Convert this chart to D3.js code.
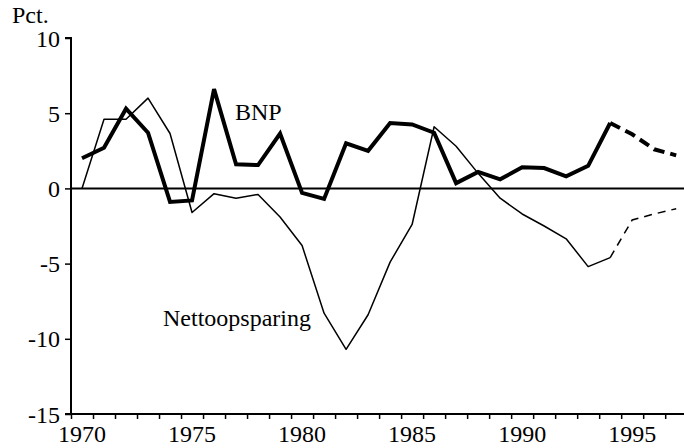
<!DOCTYPE html>
<html>
<head>
<meta charset="utf-8">
<script src="https://cdn.jsdelivr.net/npm/d3@7"></script>
<style>
html,body{margin:0;padding:0;background:#fff;}
svg text{font-family:"Liberation Serif","Times New Roman",serif;fill:#000;}
</style>
</head>
<body>
<svg id="chart" width="684" height="448"></svg>
<script>
// Data (values in pct.)
const years = d3.range(1970, 1995);            // 1970..1994 actual
const bnp = [2.0, 2.7, 5.3, 3.7, -0.9, -0.8, 6.6, 1.6, 1.55, 3.65, -0.3, -0.7, 3.0, 2.5, 4.35, 4.25, 3.7, 0.35, 1.1, 0.6, 1.4, 1.35, 0.8, 1.5, 4.35];
const netto = [0.0, 4.6, 4.6, 6.0, 3.65, -1.6, -0.35, -0.65, -0.4, -1.9, -3.8, -8.3, -10.7, -8.4, -4.9, -2.4, 4.1, 2.8, 1.0, -0.65, -1.7, -2.5, -3.35, -5.2, -4.6];
const forecastYears = [1994, 1995, 1996, 1997];
const bnpForecast = [4.35, 3.6, 2.6, 2.2];
const nettoForecast = [-4.6, -2.1, -1.7, -1.35];
const yTicks = [10, 5, 0, -5, -10, -15];
const xLabelYears = [1970, 1975, 1980, 1985, 1990, 1995];
const xTickYears = d3.range(1970, 1998);

const svg = d3.select("#chart");
const x = d3.scaleLinear().domain([1970, 1997.9]).range([71, 685]);
const y = d3.scaleLinear().domain([-15, 10]).range([414, 38]);
const mid = yr => x(yr + 0.5);

// Y axis
const yAxis = d3.axisLeft(y).tickValues(yTicks).tickSize(6).tickPadding(5).tickFormat(d => String(d));
const gy = svg.append("g").attr("transform", "translate(71,0)").call(yAxis);
gy.select(".domain").attr("stroke", "#000").attr("stroke-width", 2).attr("d", `M-6,${y(10)}H0V${y(-15)}H-6`);
gy.selectAll(".tick line").attr("stroke", "#000").attr("stroke-width", 1.5);
gy.selectAll(".tick text").style("font-size", "24px").attr("dy", "0.34em");

// X axis
const xAxis = d3.axisBottom(x).tickValues(xTickYears).tickSize(5).tickFormat("");
const gx = svg.append("g").attr("transform", `translate(0,${y(-15)})`).call(xAxis);
gx.select(".domain").attr("stroke", "#000").attr("stroke-width", 2).attr("d", `M71,0H684`);
gx.selectAll(".tick line").attr("stroke", "#000").attr("stroke-width", 1.5);
svg.append("g").selectAll("text").data(xLabelYears).join("text")
  .attr("x", d => mid(d)).attr("y", 442)
  .attr("text-anchor", "middle").style("font-size", "24px").text(d => d);

// Zero line
svg.append("line").attr("x1", 71).attr("x2", 684).attr("y1", y(0)).attr("y2", y(0))
  .attr("stroke", "#000").attr("stroke-width", 2);

const line = d3.line().x(d => mid(d[0])).y(d => y(d[1]));

// Nettoopsparing (thin)
svg.append("path").datum(years.map((yr, i) => [yr, netto[i]])).attr("d", line)
  .attr("fill", "none").attr("stroke", "#000").attr("stroke-width", 1.5).attr("stroke-linejoin", "round");
svg.append("path").datum(forecastYears.map((yr, i) => [yr, nettoForecast[i]])).attr("d", line)
  .attr("fill", "none").attr("stroke", "#000").attr("stroke-width", 1.5).attr("stroke-dasharray", "8,6");

// BNP (thick)
svg.append("path").datum(years.map((yr, i) => [yr, bnp[i]])).attr("d", line)
  .attr("fill", "none").attr("stroke", "#000").attr("stroke-width", 4).attr("stroke-linejoin", "miter");
svg.append("path").datum(forecastYears.map((yr, i) => [yr, bnpForecast[i]])).attr("d", line)
  .attr("fill", "none").attr("stroke", "#000").attr("stroke-width", 4).attr("stroke-dasharray", "11,6");

// Labels
svg.append("text").attr("x", 12).attr("y", 23).style("font-size", "24px").text("Pct.");
svg.append("text").attr("x", 235).attr("y", 120).style("font-size", "24px").text("BNP");
svg.append("text").attr("x", 163).attr("y", 326).style("font-size", "24px").text("Nettoopsparing");
</script>
</body>
</html>
